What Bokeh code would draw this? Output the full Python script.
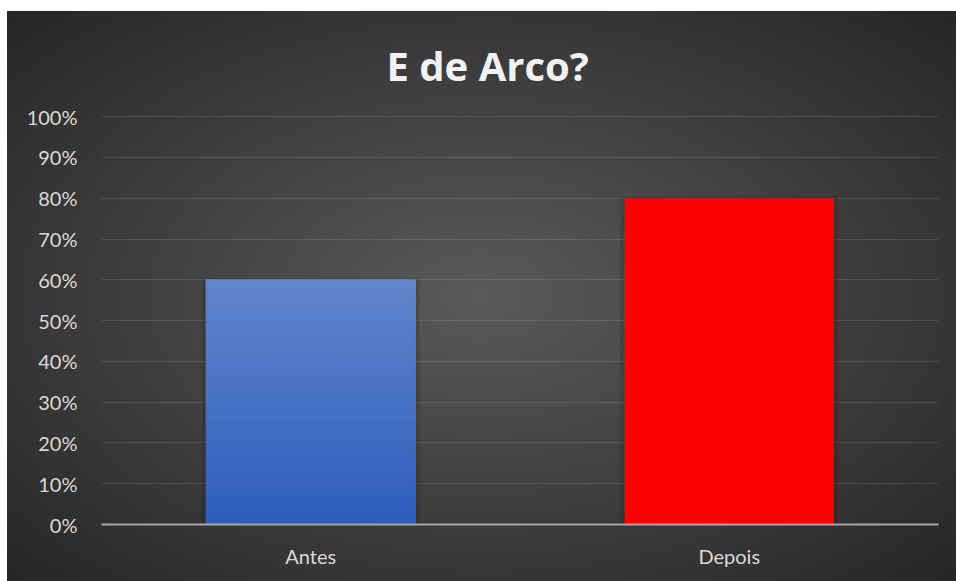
from bokeh.plotting import figure
from bokeh.models import Range1d, FactorRange, FixedTicker, Title
from bokeh.embed import file_html
from bokeh.resources import INLINE

# ---- data ----
title_text = "E de Arco?"
categories = ["Antes", "Depois"]
values = [0.60, 0.80]
tick_values = [0.0, 0.1, 0.2, 0.3, 0.4, 0.5, 0.6, 0.7, 0.8, 0.9, 1.0]
tick_labels = ["0%", "10%", "20%", "30%", "40%", "50%", "60%", "70%", "80%", "90%", "100%"]

# ---- style ----
W, H = 949, 570
FRAME_LEFT, FRAME_RIGHT, FRAME_TOP, FRAME_BOTTOM = 94, 18, 97, 57
TEXT = "#d9d9d9"


def lerp_color(c0, c1, t):
    a = [int(c0[i:i + 2], 16) for i in (1, 3, 5)]
    b = [int(c1[i:i + 2], 16) for i in (1, 3, 5)]
    return "#%02x%02x%02x" % tuple(round(a[k] + (b[k] - a[k]) * t) for k in range(3))


p = figure(width=W, height=H,
           x_range=FactorRange(*categories, range_padding=0),
           y_range=Range1d(0, 1.02),
           output_backend="svg", toolbar_location=None,
           min_border_left=FRAME_LEFT, min_border_right=FRAME_RIGHT,
           min_border_top=FRAME_TOP, min_border_bottom=FRAME_BOTTOM)
p.margin = (11, 0, 0, 7)

p.border_fill_color = None
p.background_fill_color = None
p.outline_line_color = None
p.styles = {"background": "radial-gradient(ellipse farthest-corner at 50% 50%, #5a5a5a 0%, #262626 100%)"}

# title
p.title = Title(text=title_text, align="left", offset=285, standoff=28,
                vertical_align="top",
                text_font="Open Sans", text_font_style="bold",
                text_font_size="40px", text_color="#f2f2f2")

# grid
p.xgrid.grid_line_color = None
p.ygrid.ticker = FixedTicker(ticks=tick_values)
p.ygrid.grid_line_color = "#ffffff"
p.ygrid.grid_line_alpha = 0.11
p.ygrid.grid_line_width = 1

# y axis
p.yaxis.ticker = FixedTicker(ticks=tick_values)
p.yaxis.major_label_overrides = {v: l for v, l in zip(tick_values, tick_labels)}
p.yaxis.axis_line_color = None
p.yaxis.major_tick_line_color = None
p.yaxis.minor_tick_line_color = None
p.yaxis.major_label_standoff = 18
p.yaxis.major_label_text_font = "Lato"
p.yaxis.major_label_text_font_size = "20px"
p.yaxis.major_label_text_color = TEXT

# x axis
p.xaxis.axis_line_color = "#a6a6a6"
p.xaxis.axis_line_width = 2
p.xaxis.major_tick_line_color = None
p.xaxis.minor_tick_line_color = None
p.xaxis.major_label_standoff = 13
p.xaxis.major_label_text_font = "Lato"
p.xaxis.major_label_text_font_size = "20px"
p.xaxis.major_label_text_color = TEXT

# soft shadow behind bars
p.vbar(x=categories, top=[v + 0.004 for v in values], bottom=0, width=0.52,
       fill_color="black", fill_alpha=0.12, line_color=None)

# Antes bar with vertical gradient (segments derived from its value)
n = 60
v0 = values[0]
seg_x = [categories[0]] * n
seg_bottom = [v0 * i / n for i in range(n)]
seg_top = [v0 * (i + 1) / n for i in range(n)]
seg_col = [lerp_color("#2e5ebd", "#6286cd", (i + 0.5) / n) for i in range(n)]
p.vbar(x=seg_x, bottom=seg_bottom, top=seg_top, width=0.5,
       fill_color=seg_col, line_color=seg_col, line_width=1)

# Depois bar
p.vbar(x=[categories[1]], top=[values[1]], bottom=0, width=0.5,
       fill_color="#ff0000", line_color=None)

open("out.html", "w").write(file_html(p, INLINE))
